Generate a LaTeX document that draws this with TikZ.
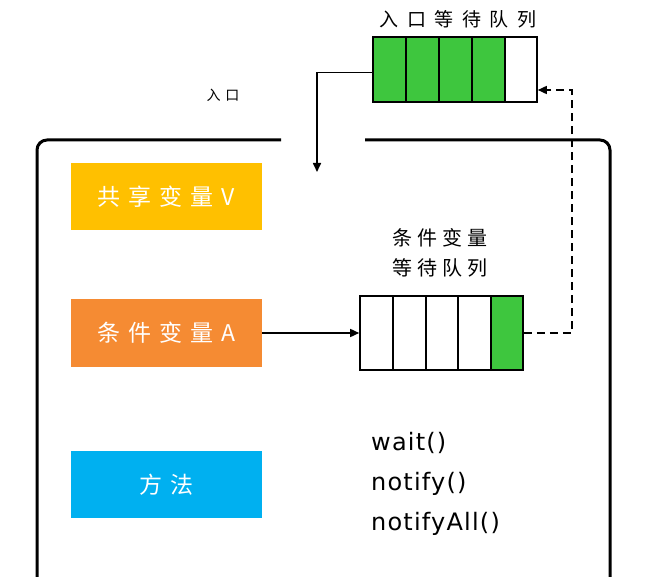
\documentclass[tikz,border=0pt]{standalone}
\usepackage{fontspec}
\usetikzlibrary{arrows.meta}
\setmainfont{DejaVu Sans}
\newfontfamily\cjk[LetterSpace=25]{Noto Sans CJK SC}
\newfontfamily\cjkwide[LetterSpace=35]{Noto Sans CJK SC}
\newfontfamily\cjkxwide[LetterSpace=45]{Noto Sans CJK SC}
\newfontfamily\latn[LetterSpace=5]{DejaVu Sans}
\definecolor{qgreen}{HTML}{3EC63E}
\definecolor{cyellow}{HTML}{FFC000}
\definecolor{corange}{HTML}{F58B33}
\definecolor{cblue}{HTML}{00B0F0}
\begin{document}
\begin{tikzpicture}[x=1pt,y=-1pt,
  colbox/.style={minimum width=191pt,minimum height=67pt,inner sep=0pt,text=white,font=\cjkwide\fontsize{23}{26}\selectfont},
  queue/.style={draw=black,line width=1.6pt,inner sep=0pt},
  conn/.style={line width=1.6pt,-{Triangle[length=9pt,width=8pt]}},
  lbl/.style={inner sep=0pt,font=\cjk\fontsize{18}{22}\selectfont}]
\useasboundingbox (0,0) rectangle (645,577);
% main frame
\draw[line width=3pt,rounded corners=10pt] (281,140) -- (37,140) -- (37,600);
\draw[line width=3pt,rounded corners=10pt] (365,140) -- (610,140) -- (610,600);
% colored boxes
\node[colbox,fill=cyellow] (shared) at (166.5,196.5) {共享变量V};
\node[colbox,fill=corange] (cond) at (166.5,333) {条件变量A};
\node[colbox,fill=cblue] (meth) at (166.5,484.5) {方法};
% top queue
\fill[qgreen] (373,37) rectangle (505,102);
\node[queue,minimum width=164pt,minimum height=65pt] (qtop) at (455,69.5) {};
\foreach \x in {406,439,472,505} \draw[line width=1.6pt] (\x,37) -- (\x,102);
\node[inner sep=0pt,font=\cjkxwide\fontsize{19}{22}\selectfont] (qtoplbl) at (458,19) {入口等待队列};
% bottom queue
\fill[qgreen] (491,296) rectangle (523,370);
\node[queue,minimum width=163pt,minimum height=74pt] (qbot) at (441.5,333) {};
\foreach \x in {393,426,458,491} \draw[line width=1.6pt] (\x,296) -- (\x,370);
\node[lbl,align=center,font=\cjk\fontsize{20}{30}\selectfont] (qbotlbl) at (440,253) {条件变量\\等待队列};
% entry label
\node[inner sep=0pt,font=\cjkwide\fontsize{14}{16}\selectfont] (entrylbl) at (223,95) {入口};
% connectors
\coordinate (entry) at (317,172);
\draw[conn] ([yshift=-3pt]qtop.west) -| (entry);
\draw[conn] (cond.east) -- (cond.east -| qbot.west);
\coordinate (dashx) at (572,0);
\draw[conn,dash pattern=on 8pt off 5pt] (qbot.east) -- (qbot.east -| dashx) |- ([yshift=-20.5pt]qtop.east);
% methods text
\node[anchor=north west,inner sep=0pt,align=left,font=\latn\fontsize{24}{40}\selectfont] (methods) at (371,432) {wait()\\notify()\\notifyAll()};
\end{tikzpicture}
\end{document}
